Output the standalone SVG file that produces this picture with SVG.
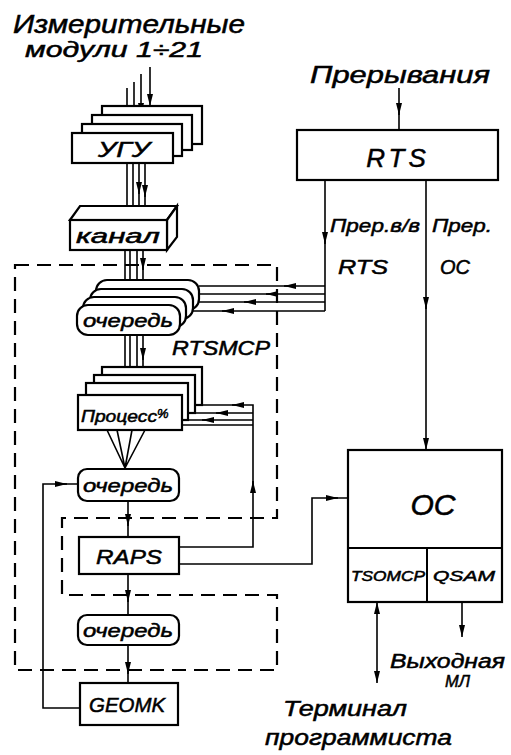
<svg xmlns="http://www.w3.org/2000/svg" width="511" height="755" viewBox="0 0 511 755">
<style>
.b{fill:#fff;stroke:#000;stroke-width:2.2}
.l{fill:none;stroke:#000;stroke-width:1.6}
.d{fill:none;stroke:#000;stroke-width:2.2;stroke-dasharray:14 8}
text{font-family:"Liberation Sans","DejaVu Sans",sans-serif;font-style:italic;fill:#000;stroke:#000;stroke-width:0.5}
.c{text-anchor:middle}
</style>
<defs>
<marker id="ae" viewBox="0 0 12 6" refX="12" refY="3" markerWidth="12" markerHeight="6" markerUnits="userSpaceOnUse" orient="auto-start-reverse"><path d="M0,0 L12,3 L0,6 Z" fill="#000"/></marker>
</defs>
<rect width="511" height="755" fill="#fff"/>

<g id="title">
<text x="13" y="33" font-size="25" textLength="232" lengthAdjust="spacingAndGlyphs">Измерительные</text>
<text x="25" y="57" font-size="22" textLength="178" lengthAdjust="spacingAndGlyphs">модули  1÷21</text>
</g>

<g id="rtsmcp-boundary">
<path class="d" d="M15,265 L277,265 L277,518 L62,518 L62,595 L277,595 L277,670 L15,670 Z"/>
<text x="172" y="355" font-size="20" textLength="98" lengthAdjust="spacingAndGlyphs">RTSMCP</text>
</g>

<g id="connectors">
<!-- inputs to UGU -->
<path class="l" d="M150,67 L150,106" marker-end="url(#ae)"/>
<path class="l" d="M141,74 L141,115" marker-end="url(#ae)"/>
<path class="l" d="M134,82 L134,124" marker-end="url(#ae)"/>
<path class="l" d="M127,88 L127,133" marker-end="url(#ae)"/>
<!-- UGU to kanal -->
<path class="l" d="M127,163 L127,212 M133,163 L133,212 M139,163 L139,212 M145,163 L145,210"/>
<path class="l" d="M145,185 L145,197" marker-end="url(#ae)"/>
<path class="l" d="M139,182 L139,194" marker-end="url(#ae)"/>
<!-- kanal to ochered -->
<path class="l" d="M125,250 L125,305 M130,250 L130,297 M137,250 L137,289 M143,250 L143,281"/>
<path class="l" d="M125,283 L125,295" marker-end="url(#ae)"/>
<path class="l" d="M143,258 L143,270" marker-end="url(#ae)"/>
<!-- ochered to process -->
<path class="l" d="M125,335 L125,395 M130,335 L130,383 M137,335 L137,375 M143,335 L143,367"/>
<path class="l" d="M125,372 L125,384" marker-end="url(#ae)"/>
<path class="l" d="M143,348 L143,360" marker-end="url(#ae)"/>
<!-- fan process to ochered2 -->
<path class="l" d="M107,430 L125,468 M117,430 L125,468 M132,430 L125,468 M145,430 L125,468"/>
<!-- chain -->
<path class="l" d="M128,501 L128,537 M128,574 L128,615 M128,645 L128,683"/>
<path class="l" d="M128,514 L128,526" marker-end="url(#ae)"/>
<path class="l" d="M128,590 L128,602" marker-end="url(#ae)"/>
<path class="l" d="M128,662 L128,674" marker-end="url(#ae)"/>
<!-- GEOMK feedback -->
<path class="l" d="M80,708 L43,708 L43,484 L78,484"/>
<path class="l" d="M55,484 L67,484" marker-end="url(#ae)"/>
<!-- Прерывания -> RTS -->
<path class="l" d="M399,88 L399,130"/>
<path class="l" d="M399,103 L399,115" marker-end="url(#ae)"/>
<!-- RTS -> ochered (interrupts) -->
<path class="l" d="M325,180 L325,311"/>
<path class="l" d="M325,232 L325,244" marker-end="url(#ae)"/>
<path class="l" d="M325,286 L199,286 M325,294 L194,294 M325,302 L189,302 M325,311 L182,311"/>
<path class="l" d="M296,286 L284,286" marker-end="url(#ae)"/>
<path class="l" d="M278,294 L266,294" marker-end="url(#ae)"/>
<path class="l" d="M256,302 L244,302" marker-end="url(#ae)"/>
<path class="l" d="M234,311 L222,311" marker-end="url(#ae)"/>
<!-- RTS -> OC -->
<path class="l" d="M426,180 L426,450" marker-end="url(#ae)"/>
<path class="l" d="M426,297 L426,309" marker-end="url(#ae)"/>
<!-- RAPS -> process feedback -->
<path class="l" d="M179,547 L253,547 L253,405 L202,405"/>
<path class="l" d="M253,413 L195,413 M253,420 L188,420 M253,425 L182,425"/>
<path class="l" d="M253,493 L253,481" marker-end="url(#ae)"/>
<path class="l" d="M244,405 L232,405" marker-end="url(#ae)"/>
<path class="l" d="M228,413 L216,413" marker-end="url(#ae)"/>
<path class="l" d="M214,420 L202,420" marker-end="url(#ae)"/>
<!-- RAPS -> OC -->
<path class="l" d="M179,564 L312,564 L312,498 L348,498"/>
<path class="l" d="M326,498 L338,498" marker-end="url(#ae)"/>
<!-- OC outputs -->
<path class="l" d="M377,602 L377,683" marker-start="url(#ae)" marker-end="url(#ae)"/>
<path class="l" d="M462,602 L462,637" marker-end="url(#ae)"/>
</g>

<g id="ugu">
<rect class="b" x="102" y="106" width="100" height="38"/>
<rect class="b" x="92" y="115" width="100" height="35"/>
<rect class="b" x="82" y="124" width="100" height="32"/>
<rect class="b" x="72" y="133" width="101" height="30"/>
<text class="c" x="124" y="157" font-size="22" textLength="52" lengthAdjust="spacingAndGlyphs">УГУ</text>
</g>

<g id="kanal">
<path class="b" d="M70,220 L80,206 L177,206 L167,220 Z"/>
<path class="b" d="M167,220 L177,206 L177,237 L167,250 Z"/>
<rect class="b" x="70" y="220" width="97" height="30"/>
<text class="c" x="118" y="243" font-size="20" textLength="84" lengthAdjust="spacingAndGlyphs">канал</text>
</g>

<g id="ochered1">
<rect class="b" x="96" y="280" width="103" height="30" rx="11"/>
<rect class="b" x="90" y="289" width="103" height="30" rx="11"/>
<rect class="b" x="83" y="297" width="103" height="30" rx="11"/>
<rect class="b" x="77" y="305" width="103" height="30" rx="11"/>
<text class="c" x="128" y="327" font-size="19" textLength="90" lengthAdjust="spacingAndGlyphs">очередь</text>
</g>

<g id="process">
<rect class="b" x="102" y="367" width="100" height="38"/>
<rect class="b" x="94" y="375" width="101" height="38"/>
<rect class="b" x="86" y="383" width="102" height="37"/>
<rect class="b" x="78" y="395" width="104" height="35"/>
<text x="81" y="422" font-size="16" textLength="76" lengthAdjust="spacingAndGlyphs">Процесс</text>
<text x="157" y="418" font-size="13">%</text>
</g>

<g id="ochered2">
<rect class="b" x="78" y="469" width="101" height="32" rx="9"/>
<text class="c" x="128" y="492" font-size="19" textLength="90" lengthAdjust="spacingAndGlyphs">очередь</text>
</g>

<g id="raps">
<rect class="b" x="79" y="537" width="100" height="37"/>
<text class="c" x="129" y="564" font-size="21" textLength="66" lengthAdjust="spacingAndGlyphs">RAPS</text>
</g>

<g id="ochered3">
<rect class="b" x="78" y="615" width="101" height="30" rx="9"/>
<text class="c" x="128" y="637" font-size="19" textLength="90" lengthAdjust="spacingAndGlyphs">очередь</text>
</g>

<g id="geomk">
<rect class="b" x="80" y="683" width="98" height="42"/>
<text class="c" x="127" y="712" font-size="20" textLength="76" lengthAdjust="spacingAndGlyphs">GEOMK</text>
</g>

<g id="rts">
<text class="c" x="400" y="83" font-size="24" textLength="180" lengthAdjust="spacingAndGlyphs">Прерывания</text>
<rect class="b" x="297" y="130" width="201" height="50"/>
<text class="c" x="398" y="167" font-size="26" letter-spacing="4">RTS</text>
<text x="330" y="232" font-size="19" textLength="90" lengthAdjust="spacingAndGlyphs">Прер.в/в</text>
<text x="338" y="274" font-size="20" textLength="50" lengthAdjust="spacingAndGlyphs">RTS</text>
<text x="432" y="232" font-size="19" textLength="60" lengthAdjust="spacingAndGlyphs">Прер.</text>
<text x="440" y="274" font-size="20" textLength="30" lengthAdjust="spacingAndGlyphs">ОС</text>
</g>

<g id="os">
<rect class="b" x="348" y="450" width="154" height="152"/>
<path d="M348,548 L502,548 M427,548 L427,602" fill="none" stroke="#000" stroke-width="2"/>
<text class="c" x="433" y="515" font-size="30">ОС</text>
<text x="351" y="581" font-size="14" textLength="74" lengthAdjust="spacingAndGlyphs">TSOMCP</text>
<text x="433" y="581" font-size="15" textLength="62" lengthAdjust="spacingAndGlyphs">QSAM</text>
</g>

<g id="outputs">
<text x="390" y="668" font-size="20" textLength="115" lengthAdjust="spacingAndGlyphs">Выходная</text>
<text x="445" y="687" font-size="17" textLength="25" lengthAdjust="spacingAndGlyphs">МЛ</text>
<text x="283" y="716" font-size="22" textLength="124" lengthAdjust="spacingAndGlyphs">Терминал</text>
<text x="265" y="745" font-size="22" textLength="187" lengthAdjust="spacingAndGlyphs">программиста</text>
</g>
</svg>
